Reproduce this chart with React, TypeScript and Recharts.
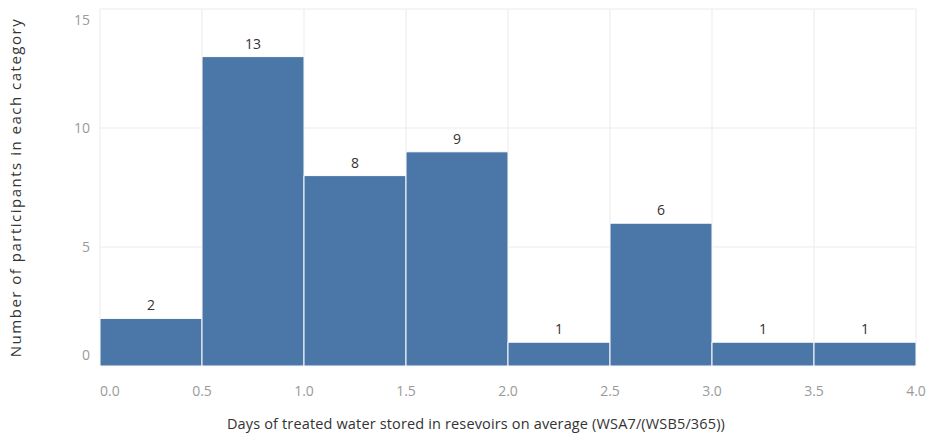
import { Bar, BarChart, CartesianGrid, LabelList, XAxis, YAxis } from "recharts";

const binStarts = [0, 0.5, 1.0, 1.5, 2.0, 2.5, 3.0, 3.5];
const counts = [2, 13, 8, 9, 1, 6, 1, 1];
const xTicks = [0, 0.5, 1, 1.5, 2, 2.5, 3, 3.5, 4];
const yTicks = [0, 5, 10, 15];

const data = binStarts.map((start, i) => ({
  bin: `${start.toFixed(1)}-${(start + 0.5).toFixed(1)}`,
  start,
  count: counts[i]
}));

const font = "'Open Sans', 'Noto Sans', sans-serif";

const XTick = (props: any) => {
  const { x, y, payload } = props;
  const first = payload.value === 0;
  return (
    <text
      x={x}
      y={y}
      dy={0}
      textAnchor={first ? "start" : "middle"}
      fill="#9a9a9a"
      fontSize={14}
      fontFamily={font}
    >
      {payload.value.toFixed(1)}
    </text>
  );
};

const YTick = (props: any) => {
  const { x, y, payload } = props;
  let dy = 5;
  if (payload.value === 15) dy = 16;
  if (payload.value === 0) dy = -6;
  return (
    <text x={x} y={y} dy={dy} textAnchor="end" fill="#9a9a9a" fontSize={14} fontFamily={font}>
      {payload.value}
    </text>
  );
};

export default function App() {
  return (
    <div style={{ position: "absolute", left: 0, top: 0, background: "#fff" }}>
      <BarChart
        width={931}
        height={439}
        data={data}
        barCategoryGap={0}
        margin={{ top: 9, right: 15, left: 0, bottom: 0 }}
      >
        <CartesianGrid xAxisId="num" stroke="#ebebeb" strokeWidth={1} />
        <XAxis xAxisId="cat" dataKey="bin" hide />
        <XAxis
          xAxisId="num"
          type="number"
          dataKey="start"
          domain={[0, 4]}
          ticks={xTicks}
          tick={<XTick />}
          tickLine={false}
          axisLine={false}
          tickSize={0}
          tickMargin={0}
          height={73}
          label={{
            value: "Days of treated water stored in resevoirs on average (WSA7/(WSB5/365))",
            position: "insideBottom",
            offset: 28,
            dy: -12,
            dx: -32,
            fill: "#333",
            fontSize: 14.5,
            fontFamily: font,
            style: { letterSpacing: 0.15 }
          }}
        />
        <YAxis
          domain={[0, 15]}
          ticks={yTicks}
          tick={<YTick />}
          tickLine={false}
          axisLine={false}
          tickSize={0}
          tickMargin={10}
          width={100}
          label={{
            value: "Number of participants in each category",
            angle: -90,
            position: "insideLeft",
            offset: 16,
            fill: "#333",
            fontSize: 15,
            fontFamily: font,
            style: { textAnchor: "middle", letterSpacing: 1.5 }
          }}
        />
        <Bar
          xAxisId="cat"
          dataKey="count"
          fill="#4b77a8"
          stroke="#ffffff"
          strokeWidth={1}
          isAnimationActive={false}
        >
          <LabelList
            dataKey="count"
            position="top"
            offset={8}
            fill="#333"
            fontSize={14}
            fontFamily={font}
          />
        </Bar>
      </BarChart>
    </div>
  );
}
